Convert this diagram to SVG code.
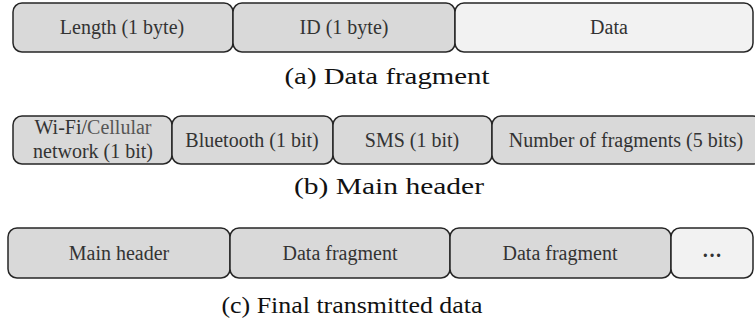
<svg xmlns="http://www.w3.org/2000/svg" width="755" height="326" viewBox="0 0 755 326">
<style>
.box{fill:#d9d9d9;stroke:#262626;stroke-width:1.5}
.lite{fill:#f2f2f2;stroke:#262626;stroke-width:1.5}
.t{font-family:"Liberation Serif","Times New Roman",serif;font-size:20px;fill:#333;text-anchor:middle}
.cap{font-family:"Liberation Serif","Times New Roman",serif;font-size:23px;fill:#111;text-anchor:middle}
</style>
<rect width="755" height="326" fill="#fff"/>
<g id="rowA">
<g id="a1"><rect class="box" x="13" y="3" width="220" height="49" rx="9"/><text class="t" x="122" y="34">Length (1 byte)</text></g>
<g id="a2"><rect class="box" x="233" y="3" width="222" height="49" rx="9"/><text class="t" x="344" y="34">ID (1 byte)</text></g>
<g id="a3"><rect class="lite" x="455" y="3" width="298" height="49" rx="9"/><text class="t" x="609" y="34">Data</text></g>
</g>
<text class="cap" x="387" y="84" textLength="205" lengthAdjust="spacingAndGlyphs">(a) Data fragment</text>
<g id="rowB">
<g id="b1"><rect class="box" x="13" y="116" width="159" height="48" rx="9"/><text class="t" x="93" y="134">Wi-Fi/<tspan fill="#555">Cellular</tspan></text><text class="t" x="93" y="158">network  (1 bit)</text></g>
<g id="b2"><rect class="box" x="172" y="116" width="161" height="48" rx="9"/><text class="t" x="252" y="147">Bluetooth (1 bit)</text></g>
<g id="b3"><rect class="box" x="333" y="116" width="159" height="48" rx="9"/><text class="t" x="412" y="147">SMS (1 bit)</text></g>
<g id="b4"><rect class="box" x="492" y="116" width="270" height="48" rx="9"/><text class="t" x="626" y="147">Number of fragments (5 bits)</text></g>
</g>
<text class="cap" x="389" y="194" textLength="190" lengthAdjust="spacingAndGlyphs">(b) Main header</text>
<g id="rowC">
<g id="c1"><rect class="box" x="8" y="228" width="222" height="50" rx="9"/><text class="t" x="119" y="260">Main header</text></g>
<g id="c2"><rect class="box" x="230" y="228" width="220" height="50" rx="9"/><text class="t" x="340" y="260">Data fragment</text></g>
<g id="c3"><rect class="box" x="450" y="228" width="221" height="50" rx="9"/><text class="t" x="560" y="260">Data fragment</text></g>
<g id="c4"><rect class="lite" x="671" y="228" width="82" height="50" rx="9"/><text class="t" x="712" y="262" font-weight="bold">···</text></g>
</g>
<text class="cap" x="352" y="313" textLength="261" lengthAdjust="spacingAndGlyphs">(c) Final transmitted data</text>
<g id="connectors"/>
</svg>
